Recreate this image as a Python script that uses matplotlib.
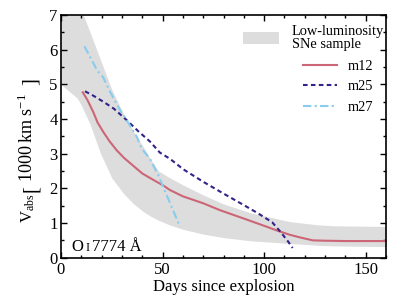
import matplotlib
matplotlib.use("Agg")
import matplotlib.pyplot as plt
import numpy as np

plt.rcParams['font.family'] = ['Liberation Serif', 'DejaVu Serif']
plt.rcParams['mathtext.fontset'] = 'custom'
plt.rcParams['mathtext.rm'] = 'Liberation Serif'
plt.rcParams['mathtext.it'] = 'Liberation Serif:italic'

# Band of low-luminosity SNe sample
band_day = [0, 8, 10, 14.3, 19.5, 25, 30.7, 35.6, 40.5, 44, 48, 53.7, 60, 70, 80, 93, 112.7, 126, 134, 160]
band_upper = [7.3, 7.3, 7.15, 6.5, 5.7, 4.85, 4.16, 3.65, 3.2, 2.85, 2.5, 2.3, 2.1, 1.81, 1.55, 1.3, 1.04, 0.95, 0.92, 0.9]
band_lower = [5.0, 4.6, 4.4, 3.85, 3.0, 2.3, 1.86, 1.56, 1.33, 1.2, 1.08, 0.94, 0.82, 0.68, 0.58, 0.49, 0.41, 0.36, 0.34, 0.32]

m12_day = [10.7, 13, 15.9, 18, 20.8, 24, 27.4, 31, 35.6, 40, 43.8, 50.4, 53.7, 60, 70, 78.3,
           91.4, 100, 107, 112.7, 118, 124, 130, 140, 160]
m12_v = [4.77, 4.55, 4.2, 3.9, 3.63, 3.35, 3.1, 2.88, 2.65, 2.43, 2.3, 2.08, 1.95, 1.77, 1.57, 1.37,
         1.1, 0.92, 0.77, 0.66, 0.58, 0.5, 0.49, 0.48, 0.48]

m25_day = [11.8, 16, 20.8, 26, 32.3, 38, 43.8, 48.7, 53.7, 60.2, 70, 80, 91.4, 97, 104, 108, 111.9, 114]
m25_v = [4.8, 4.67, 4.5, 4.3, 3.97, 3.65, 3.35, 3.03, 2.85, 2.55, 2.19, 1.85, 1.47, 1.28, 1.02, 0.75, 0.46, 0.28]

m27_day = [11.5, 16.4, 17.9, 20.8, 24.1, 29, 32.3, 37.3, 39.7, 43.8, 47.9, 58.6]
m27_v = [6.1, 5.56, 5.39, 5.2, 4.79, 4.26, 3.97, 3.49, 3.15, 2.85, 2.38, 0.89]

W, H = 407, 305
fig = plt.figure(figsize=(W / 100, H / 100), dpi=100)
ax = fig.add_axes([61 / W, 1 - 257.7 / H, 325 / W, (257.7 - 15) / H])

band = ax.fill_between(band_day, band_lower, band_upper, color='#dddddd', lw=0)
l12, = ax.plot(m12_day, m12_v, color='#CC6677', lw=1.5)
l25, = ax.plot(m25_day, m25_v, color='#332288', lw=1.5, ls=(0, (2.2, 1.6)))
l27, = ax.plot(m27_day, m27_v, color='#88CCEE', lw=1.5, ls=(0, (4, 1.6, 1, 1.6)))

ax.set_xlim(0, 160)
ax.set_ylim(0, 7)
ax.set_xticks([0, 50, 100, 150])
ax.set_yticks(range(0, 8))
ax.set_xticks(np.arange(0, 161, 10), minor=True)
ax.set_yticks(np.arange(0, 7.01, 0.5), minor=True)
ax.tick_params(which='both', direction='in', top=True, right=True, labelsize=12, width=1, colors='black')
ax.tick_params(which='major', length=4.5)
ax.tick_params(which='minor', length=2.5)
ax.tick_params(axis='y', pad=2.5)
ax.tick_params(axis='x', pad=3)
for s in ax.spines.values():
    s.set_linewidth(1.2)

ax.set_xlabel('Days since explosion', fontsize=12, labelpad=1)

def fx(px):
    return px / W

def fy(py_top):
    return 1 - py_top / H

# y label assembled from pieces so the brackets are large
fig.text(fx(33), fy(223), r'$\mathrm{V}_{\mathrm{abs}}$', rotation=90, rotation_mode='anchor',
         ha='left', va='baseline', fontsize=12)
fig.text(fx(31.5), fy(188.5), '[', rotation=90, rotation_mode='anchor',
         ha='center', va='center', fontsize=15)
mid = fig.text(fx(33), fy(182), r'$\mathrm{1000\;km\;s^{-1}}$', rotation=90, rotation_mode='anchor',
               ha='left', va='baseline', fontsize=12)
fig.text(fx(31.5), fy(82), ']', rotation=90, rotation_mode='anchor',
         ha='center', va='center', fontsize=15)
fig.canvas.draw()
ext = mid.get_window_extent()
mid.set_fontsize(12 * 89.0 / ext.height)

# line annotation
fig.text(fx(71), fy(250.7), 'O', ha='left', va='baseline', fontsize=12)
fig.text(fx(85.3), fy(250.7), 'I', ha='left', va='baseline', fontsize=9)
fig.text(fx(91.5), fy(250.7), '7774 Å', ha='left', va='baseline', fontsize=12)

fs = 10.4
leg1 = fig.legend([band], ['Low-luminosity\nSNe sample'], loc='upper left',
                  bbox_to_anchor=(fx(243.3), fy(24.5)), frameon=False, fontsize=fs,
                  handlelength=2.45, handleheight=0.95, handletextpad=0.9,
                  borderpad=0, borderaxespad=0)
for t in leg1.get_texts():
    t.set_linespacing(1.05)
leg2 = fig.legend([l12, l25, l27], ['m12', 'm25', 'm27'], loc='upper left',
                  bbox_to_anchor=(fx(303), fy(60)), frameon=False, fontsize=fs,
                  handlelength=2.35, handletextpad=0.75, labelspacing=0.5,
                  borderpad=0, borderaxespad=0)

fig.savefig('out.png', dpi=100)
